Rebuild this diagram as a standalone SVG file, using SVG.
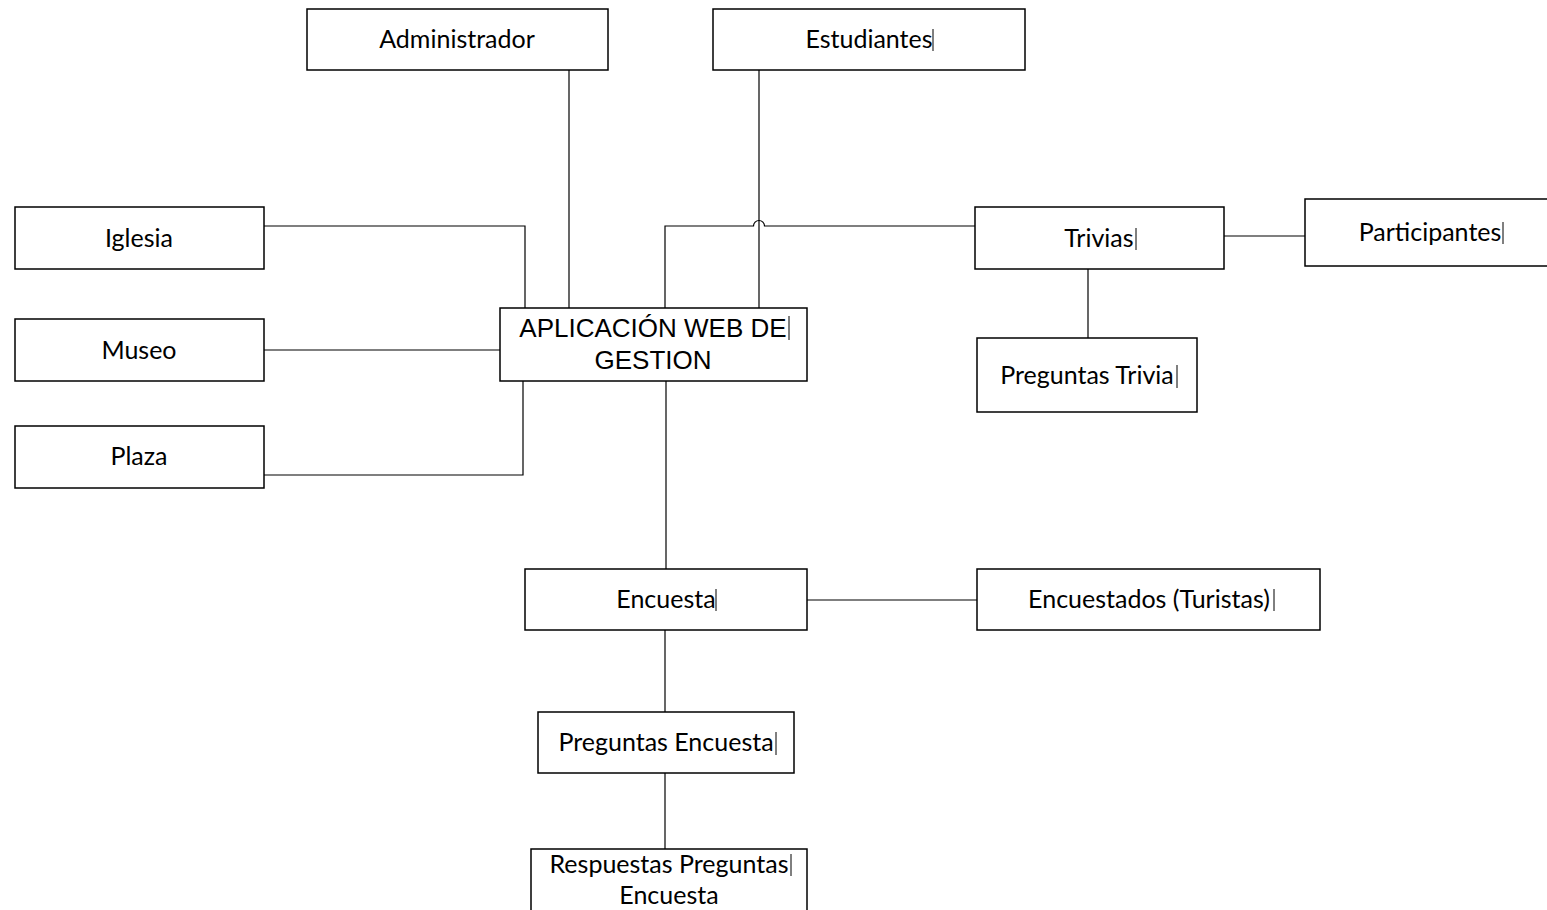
<svg xmlns="http://www.w3.org/2000/svg" width="1547" height="910" viewBox="0 0 1547 910">
  <style>
    .box { fill: #ffffff; stroke: #000000; stroke-width: 1.5; }
    .lbl { font-family: Lato, "Noto Sans", sans-serif; font-size: 25px; fill: #000000; text-anchor: middle; }
    .main { font-family: "Liberation Sans", Arial, sans-serif; font-size: 26px; fill: #000000; text-anchor: middle; }
    .wire { fill: none; stroke: #000000; stroke-width: 1.2; }
    .caret { stroke: #000000; stroke-width: 1; }
  </style>

  <rect width="1547" height="910" fill="#ffffff"/>

  <!-- connectors -->
  <g id="connectors">
    <path class="wire" d="M569,70 V308"/>
    <path class="wire" d="M759,70 V308"/>
    <path class="wire" d="M975,226 H764.5 A5.5,5.5 0 0 0 753.5,226 H665 V308"/>
    <path class="wire" d="M264,226 H525 V308"/>
    <path class="wire" d="M264,350 H500"/>
    <path class="wire" d="M264,475 H523 V381"/>
    <path class="wire" d="M666,381 V569"/>
    <path class="wire" d="M807,600 H977"/>
    <path class="wire" d="M665,630 V712"/>
    <path class="wire" d="M665,773 V849"/>
    <path class="wire" d="M1224,236 H1305"/>
    <path class="wire" d="M1088,269 V338"/>
  </g>

  <!-- nodes -->
  <g id="administrador">
    <rect class="box" x="307" y="9" width="301" height="61"/>
    <text class="lbl" x="457" y="48">Administrador</text>
  </g>
  <g id="estudiantes">
    <rect class="box" x="713" y="9" width="312" height="61"/>
    <text class="lbl" x="869" y="48">Estudiantes</text>
  </g>
  <g id="iglesia">
    <rect class="box" x="15" y="207" width="249" height="62"/>
    <text class="lbl" x="139" y="247">Iglesia</text>
  </g>
  <g id="museo">
    <rect class="box" x="15" y="319" width="249" height="62"/>
    <text class="lbl" x="139" y="359">Museo</text>
  </g>
  <g id="plaza">
    <rect class="box" x="15" y="426" width="249" height="62"/>
    <text class="lbl" x="139" y="465">Plaza</text>
  </g>
  <g id="aplicacion">
    <rect class="box" x="500" y="308" width="307" height="73"/>
    <text class="main" x="653" y="337">APLICACIÓN WEB DE</text>
    <text class="main" x="653" y="369">GESTION</text>
  </g>
  <g id="trivias">
    <rect class="box" x="975" y="207" width="249" height="62"/>
    <text class="lbl" x="1099" y="247">Trivias</text>
  </g>
  <g id="participantes">
    <rect class="box" x="1305" y="199" width="260" height="67"/>
    <text class="lbl" x="1430" y="241">Participantes</text>
  </g>
  <g id="preguntas-trivia">
    <rect class="box" x="977" y="338" width="220" height="74"/>
    <text class="lbl" x="1087" y="384">Preguntas Trivia</text>
  </g>
  <g id="encuesta">
    <rect class="box" x="525" y="569" width="282" height="61"/>
    <text class="lbl" x="666" y="608">Encuesta</text>
  </g>
  <g id="encuestados">
    <rect class="box" x="977" y="569" width="343" height="61"/>
    <text class="lbl" x="1149" y="608">Encuestados (Turistas)</text>
  </g>
  <g id="preguntas-encuesta">
    <rect class="box" x="538" y="712" width="256" height="61"/>
    <text class="lbl" x="666" y="751">Preguntas Encuesta</text>
  </g>
  <g id="respuestas">
    <rect class="box" x="531" y="849" width="276" height="80"/>
    <text class="lbl" x="669" y="873">Respuestas Preguntas</text>
    <text class="lbl" x="669" y="904">Encuesta</text>
  </g>

  <!-- text insertion marks left at the end of some labels -->
  <g id="carets">
    <line class="caret" x1="933" y1="29" x2="933" y2="51"/>
    <line class="caret" x1="789" y1="316" x2="789" y2="340"/>
    <line class="caret" x1="1136" y1="228" x2="1136" y2="250"/>
    <line class="caret" x1="1503" y1="222" x2="1503" y2="244"/>
    <line class="caret" x1="1177" y1="365" x2="1177" y2="388"/>
    <line class="caret" x1="716" y1="589" x2="716" y2="611"/>
    <line class="caret" x1="1274" y1="589" x2="1274" y2="611"/>
    <line class="caret" x1="776" y1="732" x2="776" y2="755"/>
    <line class="caret" x1="791" y1="854" x2="791" y2="876"/>
  </g>
</svg>
